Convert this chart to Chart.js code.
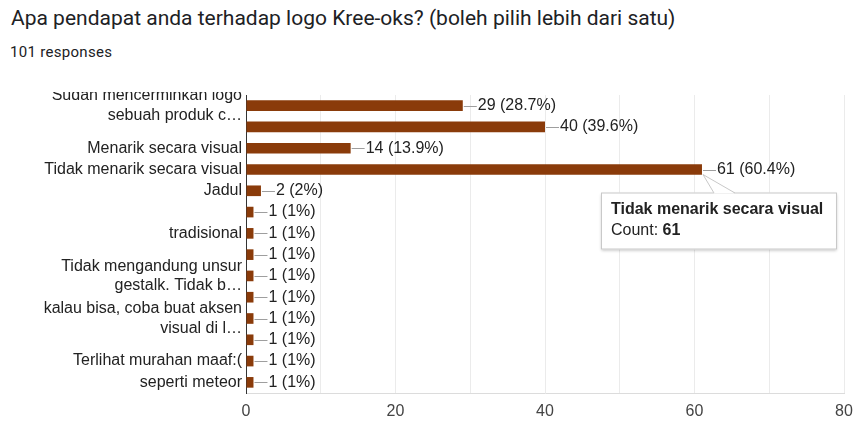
<!DOCTYPE html>
<html lang="id">
<head>
<meta charset="utf-8">
<title>Logo Kree-oks</title>
<script src="https://cdn.jsdelivr.net/npm/chart.js@4"></script>
<style>
	body { margin: 0; background: #fff; width: 856px; height: 421px; overflow: hidden; position: relative; }
	#titulo { position: absolute; left: 11px; top: 8px; font: 21px/21px Roboto, sans-serif; color: #202124; white-space: nowrap; }
	#respuestas { position: absolute; left: 10px; top: 45px; font: 15px/15px Roboto, sans-serif; letter-spacing: 0.3px; color: #202124; }
	#marco { position: absolute; left: 0; top: 92px; width: 856px; height: 329px; overflow: hidden; }
	#grafico { position: absolute; left: 0; top: -17px; }
</style>
</head>
<body>
<div id="titulo">Apa pendapat anda terhadap logo Kree-oks? (boleh pilih lebih dari satu)</div>
<div id="respuestas">101 responses</div>
<div id="marco"><canvas id="grafico" width="856" height="346"></canvas></div>

<script>
// Categorías del eje Y ('' = etiqueta que no se muestra)
const categorias = [
	['Sudah mencerminkan logo', 'sebuah produk c…'],
	'',
	'Menarik secara visual',
	'Tidak menarik secara visual',
	'Jadul',
	'',
	'tradisional',
	'',
	['Tidak mengandung unsur', 'gestalk. Tidak b…'],
	'',
	['kalau bisa, coba buat aksen', 'visual di l…'],
	'',
	'Terlihat murahan maaf:(',
	'seperti meteor'
];

// Número de respuestas por opción
const conteos = [29, 40, 14, 61, 2, 1, 1, 1, 1, 1, 1, 1, 1, 1];
const totalRespuestas = 101;

// Marcas del eje X (las líneas guía van cada 10)
const etiquetasX = [0, 20, 40, 60, 80];

const fuente = '"Liberation Sans", Arial, sans-serif';

// Texto "29 (28.7%)" al final de cada barra, con su pequeña línea
const etiquetasValor = {
	id: 'etiquetasValor',
	afterDatasetsDraw(chart) {
		const ctx = chart.ctx;
		const meta = chart.getDatasetMeta(0);
		ctx.save();
		ctx.font = '16px ' + fuente;
		ctx.textBaseline = 'middle';
		meta.data.forEach((barra, i) => {
			const v = conteos[i];
			const pct = Math.round(v / totalRespuestas * 1000) / 10;
			const y = Math.round(barra.y) + 0.5;
			ctx.strokeStyle = '#9e9e9e';
			ctx.lineWidth = 1;
			ctx.beginPath();
			ctx.moveTo(barra.x + 1, y);
			ctx.lineTo(barra.x + 14, y);
			ctx.stroke();
			ctx.fillStyle = '#222';
			ctx.fillText(v + ' (' + pct + '%)', barra.x + 15, barra.y);
		});
		ctx.restore();
	}
};

// Cuadro de detalle fijo sobre la opción más votada
const cuadroDetalle = {
	id: 'cuadroDetalle',
	afterDraw(chart) {
		const ctx = chart.ctx;
		const idx = conteos.indexOf(Math.max(...conteos));
		const barra = chart.getDatasetMeta(0).data[idx];
		const x0 = barra.x - 101;
		const y0 = barra.y + 23;
		const ancho = 236, alto = 57;
		const ax = barra.x + 1, ay = barra.y + 5;

		ctx.save();
		// caja con sombra
		ctx.shadowColor = 'rgba(0,0,0,0.25)';
		ctx.shadowBlur = 3;
		ctx.shadowOffsetY = 1;
		ctx.fillStyle = '#fff';
		ctx.fillRect(x0, y0, ancho, alto);
		ctx.shadowColor = 'transparent';
		ctx.strokeStyle = '#c8c8c8';
		ctx.lineWidth = 1;
		ctx.strokeRect(x0 + 0.5, y0 + 0.5, ancho - 1, alto - 1);

		// pico que apunta al final de la barra
		ctx.beginPath();
		ctx.moveTo(ax, ay);
		ctx.lineTo(barra.x + 12, y0 + 1);
		ctx.lineTo(barra.x + 33, y0 + 1);
		ctx.closePath();
		ctx.fill();
		ctx.beginPath();
		ctx.moveTo(barra.x + 12, y0 + 0.5);
		ctx.lineTo(ax, ay);
		ctx.lineTo(barra.x + 33, y0 + 0.5);
		ctx.stroke();

		// textos
		ctx.fillStyle = '#222';
		ctx.textBaseline = 'middle';
		ctx.font = 'bold 16px ' + fuente;
		ctx.fillText(categorias[idx], x0 + 10, y0 + 17);
		ctx.font = '16px ' + fuente;
		ctx.fillText('Count: ', x0 + 10, y0 + 38);
		const w = ctx.measureText('Count: ').width;
		ctx.font = 'bold 16px ' + fuente;
		ctx.fillText(String(conteos[idx]), x0 + 10 + w, y0 + 38);
		ctx.restore();
	}
};

new Chart(document.getElementById('grafico'), {
	type: 'bar',
	data: {
		labels: categorias,
		datasets: [{
			data: conteos,
			backgroundColor: '#8a3b0a',
			barPercentage: 0.5,
			categoryPercentage: 1.0
		}]
	},
	options: {
		indexAxis: 'y', // barras horizontales
		responsive: false,
		animation: false,
		events: [],
		layout: { padding: { top: 20, right: 12, bottom: 0, left: 0 } },
		plugins: {
			legend: { display: false },
			tooltip: { enabled: false }
		},
		scales: {
			x: {
				min: 0,
				max: 80,
				// altura fija y sin margen extra por la última etiqueta
				afterFit: s => { s.height = 28; s.paddingLeft = 0; s.paddingRight = 0; },
				grid: {
					drawTicks: false,
					color: ctx => ctx.tick && ctx.tick.value === 0 ? 'rgba(0,0,0,0)' : '#ebebeb'
				},
				border: { color: '#dcdcdc' },
				ticks: {
					stepSize: 10,
					autoSkip: false,
					maxRotation: 0,
					padding: 9,
					color: '#444',
					font: { family: fuente, size: 16 },
					callback: v => etiquetasX.includes(v) ? v : ''
				}
			},
			y: {
				afterFit: s => { s.width = 246; },
				grid: { display: false, drawTicks: false },
				border: { color: '#333', width: 1 },
				ticks: {
					autoSkip: false,
					padding: 4,
					color: '#222',
					font: { family: fuente, size: 16, lineHeight: 1.2 }
				}
			}
		}
	},
	plugins: [etiquetasValor, cuadroDetalle]
});
</script>
</body>
</html>
